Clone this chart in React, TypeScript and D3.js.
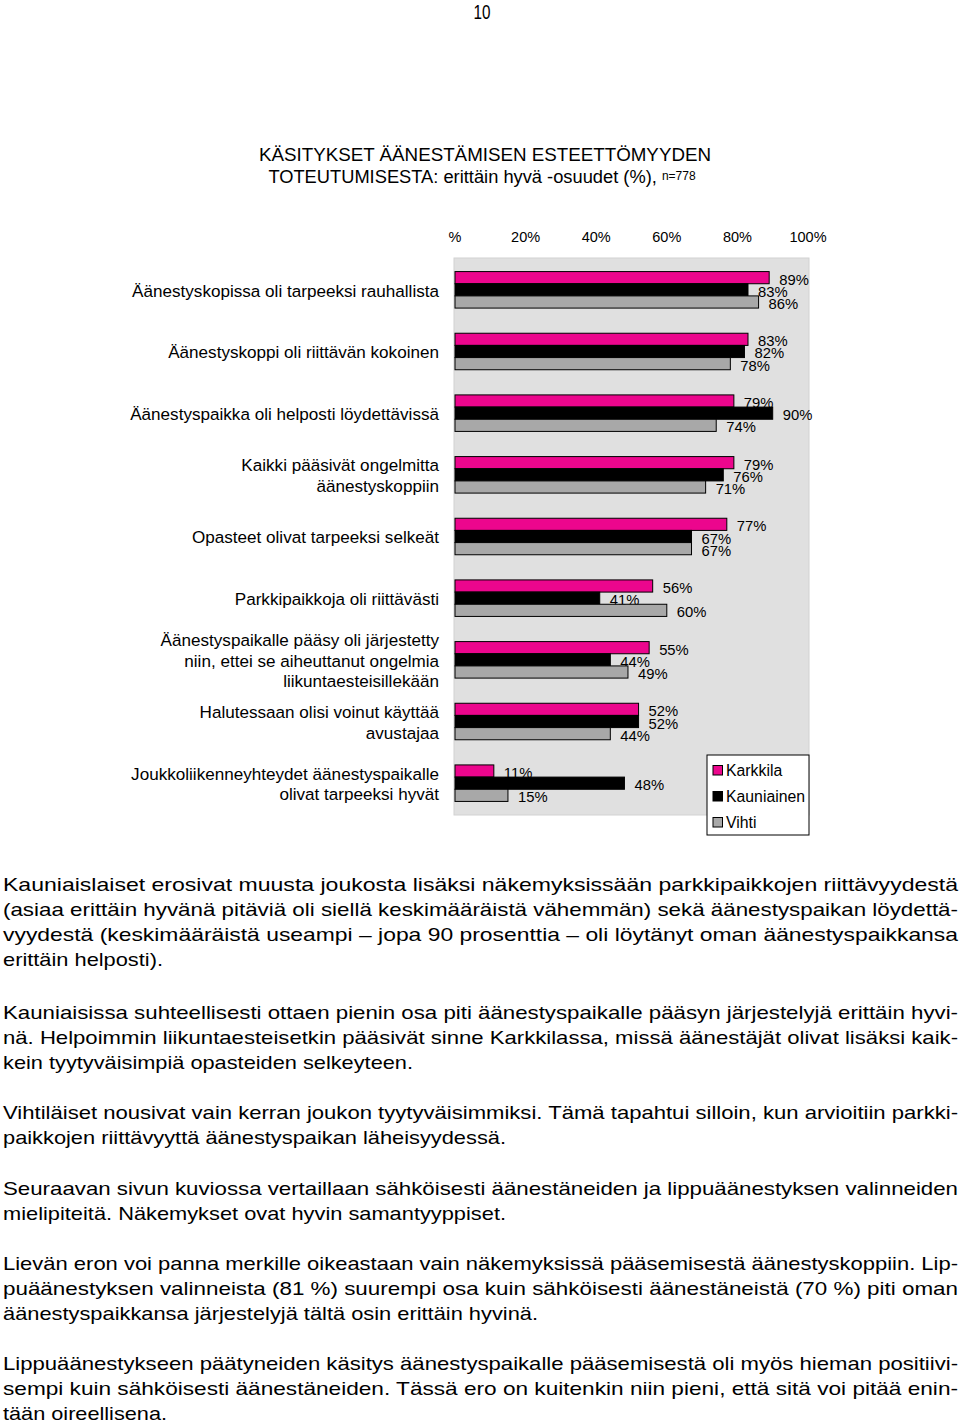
import React from "react";
import * as d3 from "d3";

const categories: string[][] = [
  ["Äänestyskopissa oli tarpeeksi rauhallista"],
  ["Äänestyskoppi oli riittävän kokoinen"],
  ["Äänestyspaikka oli helposti löydettävissä"],
  ["Kaikki pääsivät ongelmitta", "äänestyskoppiin"],
  ["Opasteet olivat tarpeeksi selkeät"],
  ["Parkkipaikkoja oli riittävästi"],
  ["Äänestyspaikalle pääsy oli järjestetty", "niin, ettei se aiheuttanut ongelmia", "liikuntaesteisillekään"],
  ["Halutessaan olisi voinut käyttää", "avustajaa"],
  ["Joukkoliikenneyhteydet äänestyspaikalle", "olivat tarpeeksi hyvät"],
];

const seriesNames = ["Karkkila", "Kauniainen", "Vihti"];
const karkkila = [89, 83, 79, 79, 77, 56, 55, 52, 11];
const kauniainen = [83, 82, 90, 76, 67, 41, 44, 52, 48];
const vihti = [86, 78, 74, 71, 67, 60, 49, 44, 15];
const seriesValues = [karkkila, kauniainen, vihti];
const seriesColors = ["#ec068d", "#000000", "#a8a8a8"];

const ticks = [0, 20, 40, 60, 80, 100];
const tickLabels = ["%", "20%", "40%", "60%", "80%", "100%"];

const titleLine1 = "KÄSITYKSET ÄÄNESTÄMISEN ESTEETTÖMYYDEN";
const titleLine2 = "TOTEUTUMISESTA: erittäin hyvä -osuudet (%), ";
const titleN = "n=778";

// body paragraphs: [text, justified]
const paragraphs: [string, boolean][][] = [
  [
    ["Kauniaislaiset erosivat muusta joukosta lisäksi näkemyksissään parkkipaikkojen riittävyydestä", true],
    ["(asiaa erittäin hyvänä pitäviä oli siellä keskimääräistä vähemmän) sekä äänestyspaikan löydettä-", true],
    ["vyydestä (keskimääräistä useampi – jopa 90 prosenttia – oli löytänyt oman äänestyspaikkansa", true],
    ["erittäin helposti).", false],
  ],
  [
    ["Kauniaisissa suhteellisesti ottaen pienin osa piti äänestyspaikalle pääsyn järjestelyjä erittäin hyvi-", true],
    ["nä. Helpoimmin liikuntaesteisetkin pääsivät sinne Karkkilassa, missä äänestäjät olivat lisäksi kaik-", true],
    ["kein tyytyväisimpiä opasteiden selkeyteen.", false],
  ],
  [
    ["Vihtiläiset nousivat vain kerran joukon tyytyväisimmiksi. Tämä tapahtui silloin, kun arvioitiin parkki-", true],
    ["paikkojen riittävyyttä äänestyspaikan läheisyydessä.", false],
  ],
  [
    ["Seuraavan sivun kuviossa vertaillaan sähköisesti äänestäneiden ja lippuäänestyksen valinneiden", true],
    ["mielipiteitä. Näkemykset ovat hyvin samantyyppiset.", false],
  ],
  [
    ["Lievän eron voi panna merkille oikeastaan vain näkemyksissä pääsemisestä äänestyskoppiin. Lip-", true],
    ["puäänestyksen valinneista (81 %) suurempi osa kuin sähköisesti äänestäneistä (70 %) piti oman", true],
    ["äänestyspaikkansa järjestelyjä tältä osin erittäin hyvinä.", false],
  ],
  [
    ["Lippuäänestykseen päätyneiden käsitys äänestyspaikalle pääsemisestä oli myös hieman positiivi-", true],
    ["sempi kuin sähköisesti äänestäneiden. Tässä ero on kuitenkin niin pieni, että sitä voi pitää enin-", true],
    ["tään oireellisena.", false],
  ],
];
const lastLineEnds = [163, 413, 506, 506, 538, 167];
const paragraphTops = [884, 1012, 1112, 1188, 1263, 1363];

const FONT = "'Liberation Sans', Arial, sans-serif";
const NARROW = "'Liberation Sans Narrow', 'Arial Narrow', 'Liberation Sans', Arial, sans-serif";

export default function App() {
  const x = d3.scaleLinear().domain([0, 100]).range([455, 808]);
  const y0 = d3
    .scaleBand<number>()
    .domain(categories.map((_, i) => i))
    .range([258, 815])
    .paddingInner(0.408)
    .paddingOuter(0.22);
  const y1 = d3.scaleBand<string>().domain(seriesNames).range([0, y0.bandwidth()]);

  const lineH = 20.5;
  const bodyLineH = 25.2;

  return (
    <svg
      width={960}
      height={1423}
      style={{ position: "absolute", left: 0, top: 0, background: "#fff" }}
      fontFamily={FONT}
    >
      <rect x={0} y={0} width={960} height={1423} fill="#fff" />
      {/* page number */}
      <text x={482} y={12} fontSize={20} textAnchor="middle" dominantBaseline="central" fontFamily={NARROW} textLength={17} lengthAdjust="spacingAndGlyphs">
        10
      </text>

      {/* title */}
      <text x={485} y={155} fontSize={17.5} textAnchor="middle" dominantBaseline="central" textLength={452} lengthAdjust="spacingAndGlyphs">
        {titleLine1}
      </text>
      <text x={482} y={176} fontSize={18.3} textAnchor="middle" dominantBaseline="central">
        {titleLine2}
        <tspan fontSize={12}>{titleN}</tspan>
      </text>

      {/* tick labels */}
      {ticks.map((t, i) => (
        <text key={t} x={x(t)} y={237} fontSize={14.5} textAnchor="middle" dominantBaseline="central">
          {tickLabels[i]}
        </text>
      ))}

      {/* plot area */}
      <rect x={x(0) - 1} y={258} width={x(100) - x(0) + 2} height={557} fill="#e0e0e0" stroke="#d2d2d2" strokeWidth={1} />

      {/* category labels */}
      {categories.map((lines, i) => {
        const cy = (y0(i) as number) + y0.bandwidth() / 2 + 1.3;
        const startY = cy - ((lines.length - 1) * lineH) / 2;
        return (
          <g key={"c" + i}>
            {lines.map((l, j) => (
              <text
                key={j}
                x={439}
                y={startY + j * lineH}
                fontSize={17.1}
                textAnchor="end"
                dominantBaseline="central"
              >
                {l}
              </text>
            ))}
          </g>
        );
      })}

      {/* bars and labels, series by series */}
      {seriesNames.map((s, si) => (
        <g key={s}>
          {seriesValues[si].map((v, ci) => (
            <rect
              key={"b" + ci}
              x={x(0)}
              y={(y0(ci) as number) + (y1(s) as number)}
              width={x(v) - x(0)}
              height={y1.bandwidth()}
              fill={seriesColors[si]}
              stroke="#000"
              strokeWidth={1}
            />
          ))}
          {seriesValues[si].map((v, ci) => (
            <text
              key={"t" + ci}
              x={x(v) + 10}
              y={(y0(ci) as number) + (y1(s) as number) + y1.bandwidth() / 2 + 2}
              fontSize={14.8}
              dominantBaseline="central"
            >
              {v}%
            </text>
          ))}
        </g>
      ))}

      {/* legend */}
      <g>
        <rect x={707} y={755} width={102} height={80} fill="#fff" stroke="#000" strokeWidth={1} />
        {seriesNames.map((s, i) => (
          <g key={s}>
            <rect x={713} y={765.5 + i * 26} width={9.5} height={9.5} fill={seriesColors[i]} stroke="#000" strokeWidth={1} />
            <text x={726} y={770 + i * 26} fontSize={15.8} dominantBaseline="central">
              {s}
            </text>
          </g>
        ))}
      </g>

      {/* body text */}
      {paragraphs.map((para, pi) => (
        <g key={pi}>
          {para.map(([line, just], li) => (
            <text
              key={li}
              x={3}
              y={paragraphTops[pi] + li * bodyLineH}
              fontSize={18.5}
              fontFamily={NARROW}
              dominantBaseline="central"
              textLength={just ? 955 : lastLineEnds[pi] - 3}
              lengthAdjust="spacingAndGlyphs"
            >
              {line}
            </text>
          ))}
        </g>
      ))}
    </svg>
  );
}
